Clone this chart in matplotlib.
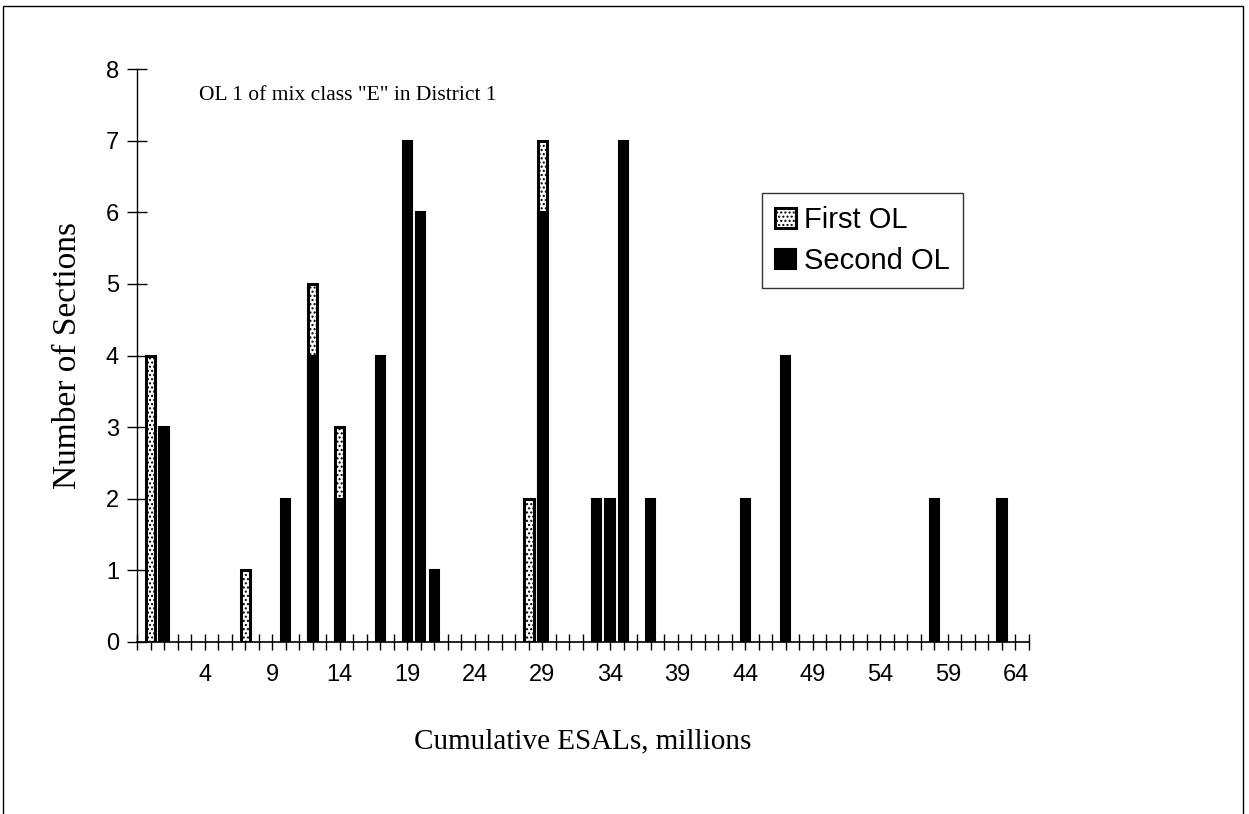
import matplotlib
matplotlib.use('Agg')
import matplotlib.pyplot as plt
from matplotlib.patches import Rectangle

# cumulative ESALs (millions) where each overlay has sections, and the counts
first_x = [0, 7, 12, 14, 28, 29]
first_n = [4, 1, 5, 3, 2, 7]
second_x = [1, 10, 12, 14, 17, 19, 20, 21, 29, 33, 34, 35, 37, 44, 47, 58, 63]
second_n = [3, 2, 4, 2, 4, 7, 6, 1, 6, 2, 2, 7, 2, 2, 4, 2, 2]
tick_labels = list(range(4, 65, 5))

plt.rcParams['font.family'] = 'Liberation Sans'

fig = plt.figure(figsize=(12.49, 8.14), dpi=100)
ax = fig.add_axes([137/1249, 1 - 642/814, (1029 - 137)/1249, (642 - 69)/814])

ax.bar(first_x, first_n, width=0.68, facecolor='white', edgecolor='black',
       linewidth=2.2, hatch='....', zorder=2, label='First OL')
ax.bar(second_x, second_n, width=0.68, facecolor='black', edgecolor='black',
       linewidth=1.5, zorder=3, label='Second OL')

ax.set_xlim(-1, 65)
ax.set_ylim(0, 8)
ax.set_xticks(tick_labels)
ax.set_xticks(range(-1, 66), minor=True)
ax.set_yticks(range(0, 9))
ax.tick_params(axis='x', which='both', direction='inout', length=12, width=1, pad=10,
               labelsize=17)
ax.tick_params(axis='y', which='both', direction='inout', length=14, width=1, pad=6,
               labelsize=17)
for s in ['top', 'right']:
    ax.spines[s].set_visible(False)
ax.spines['left'].set_linewidth(1)
ax.spines['bottom'].set_linewidth(1.2)

ax.set_ylabel('Number of Sections', family='Liberation Serif', fontsize=24, labelpad=16)
ax.set_xlabel('Cumulative ESALs, millions', family='Liberation Serif', fontsize=21,
              labelpad=30)
ax.text(199/1249, 1 - 95/814, 'OL 1 of mix class "E" in District 1',
        transform=fig.transFigure, family='Liberation Serif', fontsize=15.5,
        va='center', ha='left')

leg = ax.legend(loc='upper left', bbox_to_anchor=(762/1249, 1 - 193/814),
                bbox_transform=fig.transFigure, fontsize=21, frameon=True,
                fancybox=False, handlelength=0.7, handleheight=0.7,
                handletextpad=0.3, borderpad=0.45, labelspacing=0.45,
                borderaxespad=0)
leg.get_frame().set_edgecolor('black')
leg.get_frame().set_linewidth(1)

# outer chart border
fig.add_artist(Rectangle((3/1249, -0.05), 1240/1249, 1.05 - 6/814,
                         transform=fig.transFigure, fill=False,
                         edgecolor='black', linewidth=1))

plt.savefig('out.png', dpi=100)
